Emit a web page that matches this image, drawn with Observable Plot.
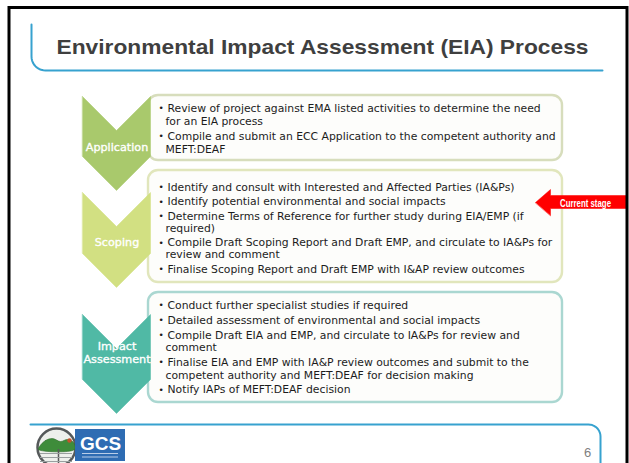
<!DOCTYPE html>
<html><head><meta charset="utf-8">
<script src="https://cdn.jsdelivr.net/npm/d3@7"></script>
<script src="https://cdn.jsdelivr.net/npm/@observablehq/plot@0.6"></script>
<style>html,body{margin:0;padding:0;background:#fff;overflow:hidden} svg{display:block}</style>
</head><body><div id="chart"></div>
<script>
// ---------- DATA ----------
const title = "Environmental Impact Assessment (EIA) Process";
const stages = ["Application", "Scoping", "Impact Assessment"];
const stageLabels = [["Application"], ["Scoping"], ["Impact", "Assessment"]];
const applicationBullets = [
  ["Review of project against EMA listed activities to determine the need", "for an EIA process"],
  ["Compile and submit an ECC Application to the competent authority and", "MEFT:DEAF"]
];
const scopingBullets = [
  ["Identify and consult with Interested and Affected Parties (IA&Ps)"],
  ["Identify potential environmental and social impacts"],
  ["Determine Terms of Reference for further study during EIA/EMP (if", "required)"],
  ["Compile Draft Scoping Report and Draft EMP, and circulate to IA&Ps for", "review and comment"],
  ["Finalise Scoping Report and Draft EMP with I&AP review outcomes"]
];
const impactBullets = [
  ["Conduct further specialist studies if required"],
  ["Detailed assessment of environmental and social impacts"],
  ["Compile Draft EIA and EMP, and circulate to IA&Ps for review and", "comment"],
  ["Finalise EIA and EMP with IA&P review outcomes and submit to the", "competent authority and MEFT:DEAF for decision making"],
  ["Notify IAPs of MEFT:DEAF decision"]
];
const stageBullets = [applicationBullets, scopingBullets, impactBullets];
const currentStage = "Scoping";
const currentStageLabel = "Current stage";
const pageNumber = "6";
const logoText = "GCS";

// ---------- LAYOUT (pixel space) ----------
const W = 629, H = 463;
const chevX1 = 82, chevX2 = 150, notch = 34;
const boxX1 = 148, boxX2 = 562;
const bulletX = 158, textX = 167, wrapX = 165;
const stageLayout = [
  {boxTop: 95, boxBottom: 160, chevTop: 96, chevTip: 190, firstLine: 108, wrap: 13, gap: 15, fill: "#a9c96c", stroke: "#d7ddbc", labelY: 147},
  {boxTop: 170, boxBottom: 282, chevTop: 192, chevTip: 287, firstLine: 187, wrap: 12.3, gap: 14.3, fill: "#d2e082", stroke: "#e1e6bc", labelY: 242},
  {boxTop: 292, boxBottom: 402, chevTop: 314, chevTip: 413, firstLine: 305, wrap: 12.6, gap: 14.8, fill: "#50b9a5", stroke: "#aad7d1", labelY: 359}
];
const font = "'Liberation Sans', Arial, sans-serif";
const bodyFont = "'DejaVu Sans', Verdana, sans-serif";

// ---------- DERIVED GEOMETRY ----------
const boxes = stages.map((s, i) => ({stage: s, x1: boxX1, x2: boxX2, y1: stageLayout[i].boxTop, y2: stageLayout[i].boxBottom, stroke: stageLayout[i].stroke}));

const chevronPts = stages.flatMap((s, i) => {
  const L = stageLayout[i], mid = (chevX1 + chevX2) / 2;
  const fill = L.fill;
  return [
    [chevX1, L.chevTop], [mid, L.chevTop + notch], [chevX2, L.chevTop],
    [chevX2, L.chevTip - notch], [mid, L.chevTip], [chevX1, L.chevTip - notch]
  ].map(([x, y]) => ({stage: s, x, y, fill}));
});

const labelRows = stages.flatMap((s, i) => {
  const lines = stageLabels[i], L = stageLayout[i];
  return lines.map((t, j) => ({text: t, x: (chevX1 + chevX2) / 2 + 0.5, y: L.labelY + (j - (lines.length - 1)) * 13}));
});

const bulletRows = [], bulletDots = [];
stages.forEach((s, i) => {
  const L = stageLayout[i];
  let y = L.firstLine;
  stageBullets[i].forEach((b, bi) => {
    if (bi > 0) y += L.gap;
    b.forEach((line, li) => {
      if (li > 0) y += L.wrap;
      bulletRows.push({text: line, x: li === 0 ? textX : wrapX, y});
      if (li === 0) bulletDots.push({text: "•", x: bulletX, y});
    });
  });
});

// title and footer rules with rounded corners
function arc(cx, cy, r, a0, a1, n = 10) {
  return d3.range(n + 1).map(k => { const a = a0 + (a1 - a0) * k / n; return {x: cx + r * Math.cos(a), y: cy + r * Math.sin(a)}; });
}
const titleRule = [{x: 31, y: 24}, ...arc(45, 56, 14, Math.PI, Math.PI / 2), {x: 602, y: 70}];
const footerRule = [{x: 30, y: 424}, ...arc(588, 436, 12, -Math.PI / 2, 0), {x: 600, y: 470}];

// current-stage arrow derived from the current stage's layout
const ci = stages.indexOf(currentStage);
const ay = stageLayout[ci].firstLine + 15;
const ax = boxX2 - 27;
const arrowPts = [[ax, ay], [ax + 15, ay - 13], [ax + 15, ay - 7], [626, ay - 7], [626, ay + 6], [ax + 15, ay + 6], [ax + 15, ay + 13]].map(([x, y]) => ({x, y}));

// logo (relative to anchor)
const lx = 56, ly = 447;
const hill = [[-17, -1], [-11, -7], [-4, -9], [4, -6], [11, -8], [17, -5], [18, 2], [-18, 2]].map(([dx, dy]) => ({x: lx + dx, y: ly + dy}));

// ---------- PLOT ----------
const chart = Plot.plot({
  width: W, height: H, margin: 0,
  x: {domain: [0, W], range: [0, W], axis: null},
  y: {domain: [0, H], range: [0, H], axis: null},
  color: {type: "identity"},
  style: {background: "#fff"},
  marks: [
    // title
    Plot.line(titleRule, {x: "x", y: "y", stroke: "#37a2cf", strokeWidth: 2}),
    Plot.text([title], {x: () => 56, y: () => 47, text: d => d, textAnchor: "start", lineAnchor: "middle", fontSize: 21, fontWeight: "bold", fontFamily: font, fill: "#3f3f3f"}),
    // boxes
    Plot.rect(boxes, {x1: "x1", x2: "x2", y1: "y1", y2: "y2", rx: 10, fill: "#fdfdfb", stroke: "stroke", strokeWidth: 2.4}),
    // chevrons
    Plot.line(chevronPts, {x: "x", y: "y", z: "stage", fill: "fill", stroke: "fill", strokeWidth: 0.5, curve: "linear-closed"}),
    Plot.text(labelRows, {x: "x", y: "y", text: "text", fill: "#fff", stroke: "#fff", strokeWidth: 0.35, fontSize: 11.2, fontFamily: bodyFont, lineAnchor: "middle"}),
    // bullets
    Plot.text(bulletDots, {x: "x", y: "y", text: "text", fontSize: 9, fontFamily: bodyFont, fill: "#1c1c1c", textAnchor: "start", lineAnchor: "middle"}),
    Plot.text(bulletRows, {x: "x", y: "y", text: "text", fontSize: 10.8, fontFamily: bodyFont, fill: "#1c1c1c", textAnchor: "start", lineAnchor: "middle"}),
    // arrow
    Plot.line(arrowPts, {x: "x", y: "y", fill: "#ff0000", stroke: "#ff0000", strokeWidth: 0.5, curve: "linear-closed"}),
    Plot.text([currentStageLabel], {x: () => 585, y: () => ay + 1, text: d => d, fill: "#fff", fontSize: 10, fontWeight: "bold", fontFamily: font, lineAnchor: "middle"}),
    // footer
    Plot.line(footerRule, {x: "x", y: "y", stroke: "#37a2cf", strokeWidth: 2}),
    Plot.text([pageNumber], {x: () => 587, y: () => 452, text: d => d, fill: "#808080", fontSize: 13, fontFamily: font, lineAnchor: "middle"}),
    // logo
    Plot.dot([{x: lx, y: ly}], {x: "x", y: "y", r: 19, fill: "#eef0ec", stroke: "#55595a", strokeWidth: 2.5}),
    Plot.line(hill, {x: "x", y: "y", fill: "#3e8c3a", stroke: "#2f6d2c", strokeWidth: 0.6, curve: "catmull-rom-closed"}),
    Plot.dot([{x: lx + 13, y: ly - 7}], {x: "x", y: "y", r: 2.2, fill: "#c4532b"}),
    Plot.ruleX([{x: lx + 2}], {x: "x", y1: () => ly + 2, y2: () => ly + 16, stroke: "#5a5a5a", strokeWidth: 1.5}),
    Plot.ruleY([ly + 6, ly + 10, ly + 14], {y: d => d, x1: () => lx - 16, x2: () => lx + 16, stroke: "#9aa0a0", strokeWidth: 1}),
    Plot.rect([{x1: 75, x2: 125, y1: 429, y2: 461}], {x1: "x1", x2: "x2", y1: "y1", y2: "y2", fill: "#2e6cb3"}),
    Plot.text([logoText], {x: () => 100, y: () => 443, text: d => d, fill: "#fff", fontSize: 19, fontWeight: "bold", fontFamily: font, lineAnchor: "middle"}),
    Plot.ruleY([453, 456.5], {y: d => d, x1: () => 82, x2: () => 118, stroke: "#b9cde8", strokeWidth: 1}),
    // slide border
    Plot.rect([{x1: 9, x2: 627, y1: 7.5, y2: 480}], {x1: "x1", x2: "x2", y1: "y1", y2: "y2", fill: "none", stroke: "#000", strokeWidth: 3})
  ]
});
document.getElementById("chart").appendChild(chart);

// fit a couple of labels to their measured widths
d3.select(chart).selectAll("text").each(function() {
  const t = this.textContent;
  if (t === title) { this.setAttribute("textLength", 532); this.setAttribute("lengthAdjust", "spacingAndGlyphs"); }
  if (t === currentStageLabel) { this.setAttribute("textLength", 51); this.setAttribute("lengthAdjust", "spacingAndGlyphs"); }
});
</script>
</body></html>
